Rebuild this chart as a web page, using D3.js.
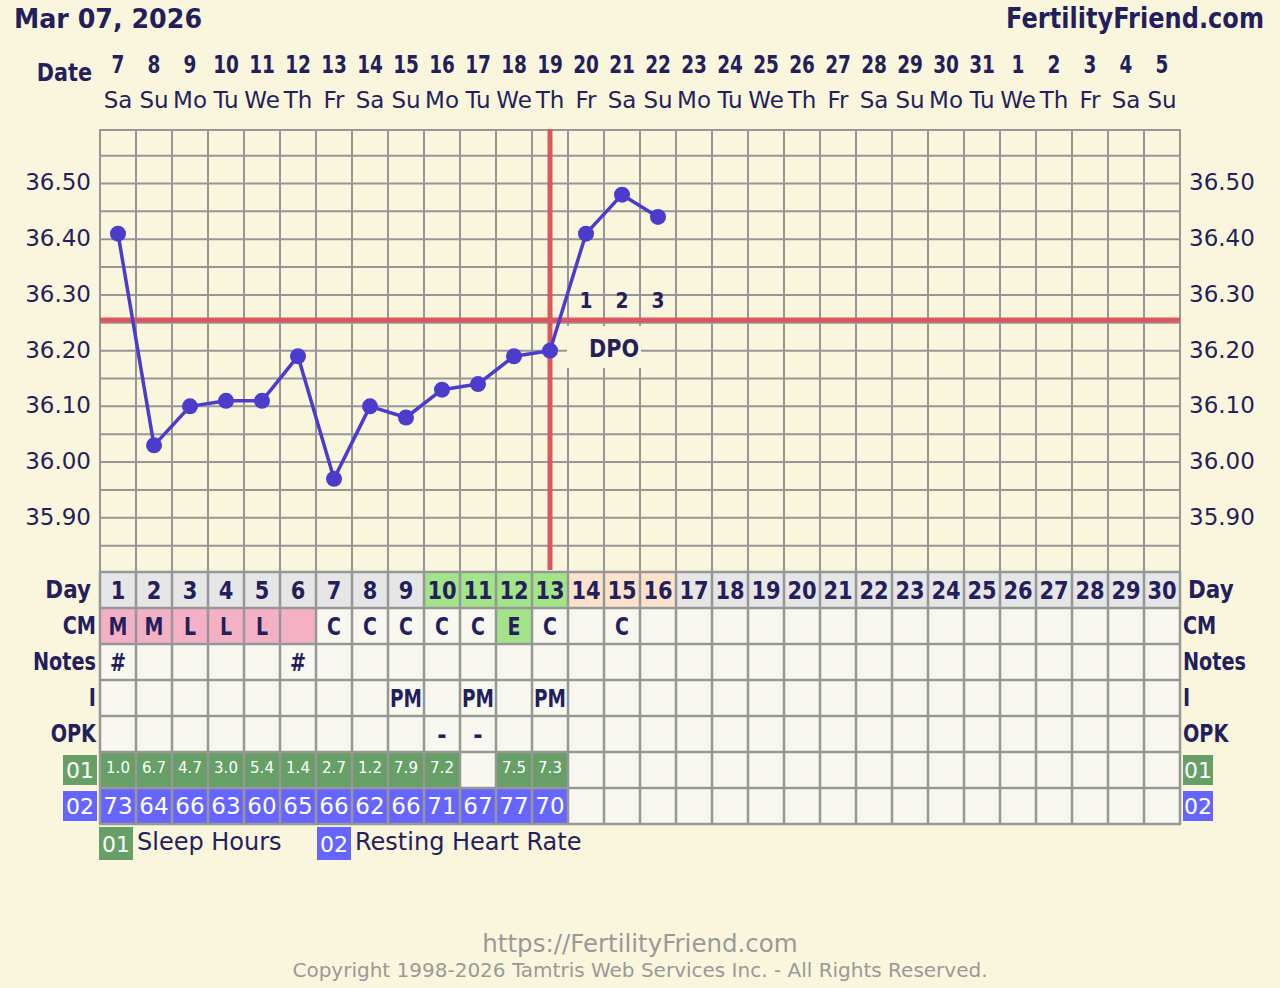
<!DOCTYPE html>
<html><head><meta charset="utf-8">
<script src="https://cdn.jsdelivr.net/npm/d3@7"></script>
<style>html,body{margin:0;padding:0;background:#f9f6dd;} svg{display:block}</style>
</head><body><svg id="c" width="1280" height="988"></svg>
<script>
// ---------- data ----------
const chartDate = "Mar 07, 2026";
const siteName = "FertilityFriend.com";
const dateLabels = ["7","8","9","10","11","12","13","14","15","16","17","18","19","20","21","22","23","24","25","26","27","28","29","30","31","1","2","3","4","5"];
const weekdayLabels = ["Sa","Su","Mo","Tu","We","Th","Fr","Sa","Su","Mo","Tu","We","Th","Fr","Sa","Su","Mo","Tu","We","Th","Fr","Sa","Su","Mo","Tu","We","Th","Fr","Sa","Su"];
const cycleDays = [1,2,3,4,5,6,7,8,9,10,11,12,13,14,15,16,17,18,19,20,21,22,23,24,25,26,27,28,29,30];
const temps = [36.41,36.03,36.10,36.11,36.11,36.19,35.97,36.10,36.08,36.13,36.14,36.19,36.20,36.41,36.48,36.44];
const yTickValues = [35.90,36.00,36.10,36.20,36.30,36.40,36.50];
const coverline = 36.255;
const ovulationDay = 13;
const dpoDays = [14,15,16];
const dpoLabels = ["1","2","3"];
const fertileDays = [10,11,12,13];
const lutealDays = [14,15,16];
const cmValues = ["M","M","L","L","L","","C","C","C","C","C","E","C","","C"];
const cmPinkDays = [1,2,3,4,5,6];
const cmEggDays = [12];
const noteValues = ["#","","","","","#"];
const intercourseValues = ["","","","","","","","","PM","","PM","","PM"];
const opkValues = ["","","","","","","","","","-","-"];
const sleepHours = [1.0,6.7,4.7,3.0,5.4,1.4,2.7,1.2,7.9,7.2,null,7.5,7.3];
const restingHR = [73,64,66,63,60,65,66,62,66,71,67,77,70];
const rowLabels = ["Day","CM","Notes","I","OPK","01","02"];
const legendItems = [["01","Sleep Hours"],["02","Resting Heart Rate"]];
const footerUrl = "https://FertilityFriend.com";
const footerCopy = "Copyright 1998-2026 Tamtris Web Services Inc. - All Rights Reserved.";

// ---------- style ----------
const FONT = '"DejaVu Sans", Verdana, sans-serif';
const NAVY = '#241f5c';
const BG = '#f9f6dd';
const GRID = '#979797';
const RED = '#d9585e';
const TEMP = '#4b3ccd';
const CELL = '#f8f8f1';
const DAYGRAY = '#e6e6e6';
const GREEN = '#a3e489';
const PEACH = '#fee3cc';
const PINK = '#f4b1c5';
const SLEEP = '#66a066';
const HR = '#6666ff';

const svg = d3.select('#c');
svg.append('rect').attr('width',1280).attr('height',988).attr('fill',BG);

function txt(g, x, y, s, o = {}) {
  return g.append('text')
    .attr('transform', `translate(${x},${y}) scale(${o.sx || 1},1)`)
    .attr('text-anchor', o.anchor || 'middle')
    .attr('font-family', FONT)
    .attr('font-size', o.size || 22)
    .attr('font-weight', o.bold ? 'bold' : 'normal')
    .attr('fill', o.fill || NAVY)
    .text(s);
}

// ---------- scales ----------
const x = d3.scaleBand().domain(cycleDays).range([100, 1180]);
const bw = x.bandwidth();
const cx = d => x(d) + bw / 2;
const y = d3.scaleLinear().domain([35.80, 36.60]).range([573.5, 127.8]);
const chartTop = 130, chartBottom = 572;
const rowH = 36;
const rowY = j => chartBottom + j * rowH;

// ---------- header ----------
txt(svg, 14, 28, chartDate, {anchor:'start', bold:true, size:27, sx:0.94});
txt(svg, 1264, 28, siteName, {anchor:'end', bold:true, size:28, sx:0.86});
txt(svg, 92, 81, "Date", {anchor:'end', bold:true, size:25, sx:0.83});
cycleDays.forEach((d,i) => {
  txt(svg, cx(d), 73, dateLabels[i], {bold:true, size:25, sx:0.74});
  txt(svg, cx(d), 108, weekdayLabels[i], {size:23});
});

// ---------- chart grid ----------
const grid = svg.append('g').attr('stroke', GRID).attr('stroke-width', 2);
d3.range(35.85, 36.56, 0.05).forEach(v => {
  grid.append('line').attr('x1',100).attr('x2',1180).attr('y1',y(v)).attr('y2',y(v));
});
grid.append('line').attr('x1',100).attr('x2',1180).attr('y1',chartTop).attr('y2',chartTop);
d3.range(0, 31).forEach(k => {
  const xx = k < 30 ? x(cycleDays[k]) : 1180;
  grid.append('line').attr('x1',xx).attr('x2',xx).attr('y1',chartTop-1).attr('y2',chartBottom);
});

// y axes
const axL = svg.append('g').attr('transform','translate(91,0)')
  .call(d3.axisLeft(y).tickValues(yTickValues).tickFormat(d3.format('.2f')).tickSize(0).tickPadding(0));
const axR = svg.append('g').attr('transform','translate(1189,0)')
  .call(d3.axisRight(y).tickValues(yTickValues).tickFormat(d3.format('.2f')).tickSize(0).tickPadding(0));
[axL, axR].forEach(a => {
  a.select('.domain').remove();
  a.selectAll('text').attr('font-family', FONT).attr('font-size', 23).attr('fill', NAVY).attr('dy','0.28em');
});

// DPO box (hides grid)
svg.append('rect').attr('x', x(dpoDays[0]) - 1).attr('y', 326)
  .attr('width', x(dpoDays[2]) - x(dpoDays[0]) + 2).attr('height', 42).attr('fill', BG);

// coverline & ovulation line
svg.append('line').attr('x1',100).attr('x2',1180).attr('y1',y(coverline)).attr('y2',y(coverline))
  .attr('stroke',RED).attr('stroke-width',5);
svg.append('line').attr('x1',cx(ovulationDay)).attr('x2',cx(ovulationDay)).attr('y1',chartTop-1).attr('y2',chartBottom-2)
  .attr('stroke',RED).attr('stroke-width',5);

// temperatures
const line = d3.line().x((d,i) => cx(cycleDays[i])).y(d => y(d));
svg.append('path').datum(temps).attr('d', line).attr('fill','none')
  .attr('stroke', TEMP).attr('stroke-width', 3.5).attr('stroke-linejoin','round');
svg.append('g').selectAll('circle').data(temps).join('circle')
  .attr('cx', (d,i) => cx(cycleDays[i])).attr('cy', d => y(d)).attr('r', 8).attr('fill', TEMP);

// DPO labels
dpoDays.forEach((d,i) => txt(svg, cx(d), 308, dpoLabels[i], {bold:true, size:22, sx:0.85}));
txt(svg, cx(dpoDays[1]) - 8, 357, "DPO", {bold:true, size:25, sx:0.83});

// ---------- table ----------
const tbl = svg.append('g');
function cellFill(j, d) {
  const i = d - 1;
  if (j === 0) return fertileDays.includes(d) ? GREEN : lutealDays.includes(d) ? PEACH : DAYGRAY;
  if (j === 1) return cmPinkDays.includes(d) ? PINK : cmEggDays.includes(d) ? GREEN : CELL;
  if (j === 5) return (sleepHours[i] != null) ? SLEEP : CELL;
  if (j === 6) return (restingHR[i] != null) ? HR : CELL;
  return CELL;
}
rowLabels.forEach((lab, j) => {
  cycleDays.forEach(d => {
    tbl.append('rect').attr('x', x(d)).attr('y', rowY(j)).attr('width', bw).attr('height', rowH)
      .attr('fill', cellFill(j, d));
  });
});
// cell texts
cycleDays.forEach((d,i) => {
  txt(tbl, cx(d), rowY(0) + 27, String(d), {bold:true, size:25, sx:0.84});
  if (cmValues[i]) txt(tbl, cx(d), rowY(1) + 27, cmValues[i], {bold:true, size:25, sx:0.76});
  if (noteValues[i]) txt(tbl, cx(d), rowY(2) + 27, noteValues[i], {bold:true, size:24, sx:0.8});
  if (intercourseValues[i]) txt(tbl, cx(d), rowY(3) + 27, intercourseValues[i], {bold:true, size:25, sx:0.74});
  if (opkValues[i]) txt(tbl, cx(d), rowY(4) + 27, opkValues[i], {bold:true, size:25, sx:0.9});
  if (sleepHours[i] != null) txt(tbl, cx(d), rowY(5) + 21, sleepHours[i].toFixed(1), {size:15, fill:'#ffffff'});
  if (restingHR[i] != null) txt(tbl, cx(d), rowY(6) + 26, String(restingHR[i]), {size:23, fill:'#ffffff'});
});
// table grid
const tg = svg.append('g').attr('stroke', GRID).attr('stroke-width', 2.5);
d3.range(0, rowLabels.length + 1).forEach(j => {
  tg.append('line').attr('x1', 99).attr('x2', 1181).attr('y1', rowY(j)).attr('y2', rowY(j));
});
d3.range(0, 31).forEach(k => {
  const xx = k < 30 ? x(cycleDays[k]) : 1180;
  tg.append('line').attr('x1', xx).attr('x2', xx).attr('y1', rowY(0)).attr('y2', rowY(rowLabels.length));
});

// row labels
rowLabels.forEach((lab, j) => {
  if (j < 5) {
    const isDay = j === 0;
    txt(svg, isDay ? 91 : 96, rowY(j) + 26, lab, {anchor:'end', bold:true, size:25, sx: isDay ? 0.86 : 0.77});
    txt(svg, isDay ? 1188 : 1183, rowY(j) + 26, lab, {anchor:'start', bold:true, size:25, sx: isDay ? 0.86 : 0.77});
  } else {
    const col = j === 5 ? SLEEP : HR;
    svg.append('rect').attr('x', 63).attr('y', rowY(j) + 3).attr('width', 34).attr('height', 30).attr('fill', col);
    txt(svg, 80, rowY(j) + 26, lab, {size:22, fill:'#ffffff'});
    svg.append('rect').attr('x', 1183).attr('y', rowY(j) + 3).attr('width', 30).attr('height', 30).attr('fill', col);
    txt(svg, 1198, rowY(j) + 26, lab, {size:22, fill:'#ffffff'});
  }
});

// legend
const legX = [99, 317];
legendItems.forEach((it, i) => {
  const col = i === 0 ? SLEEP : HR;
  svg.append('rect').attr('x', legX[i]).attr('y', 827).attr('width', 34).attr('height', 33).attr('fill', col);
  txt(svg, legX[i] + 17, 852, it[0], {size:22, fill:'#ffffff'});
  txt(svg, legX[i] + 38, 850, it[1], {anchor:'start', size:24});
});

// footer
txt(svg, 640, 952, footerUrl, {size:24.5, fill:'#999999'});
txt(svg, 640, 977, footerCopy, {size:20, fill:'#999999'});
</script></body></html>
